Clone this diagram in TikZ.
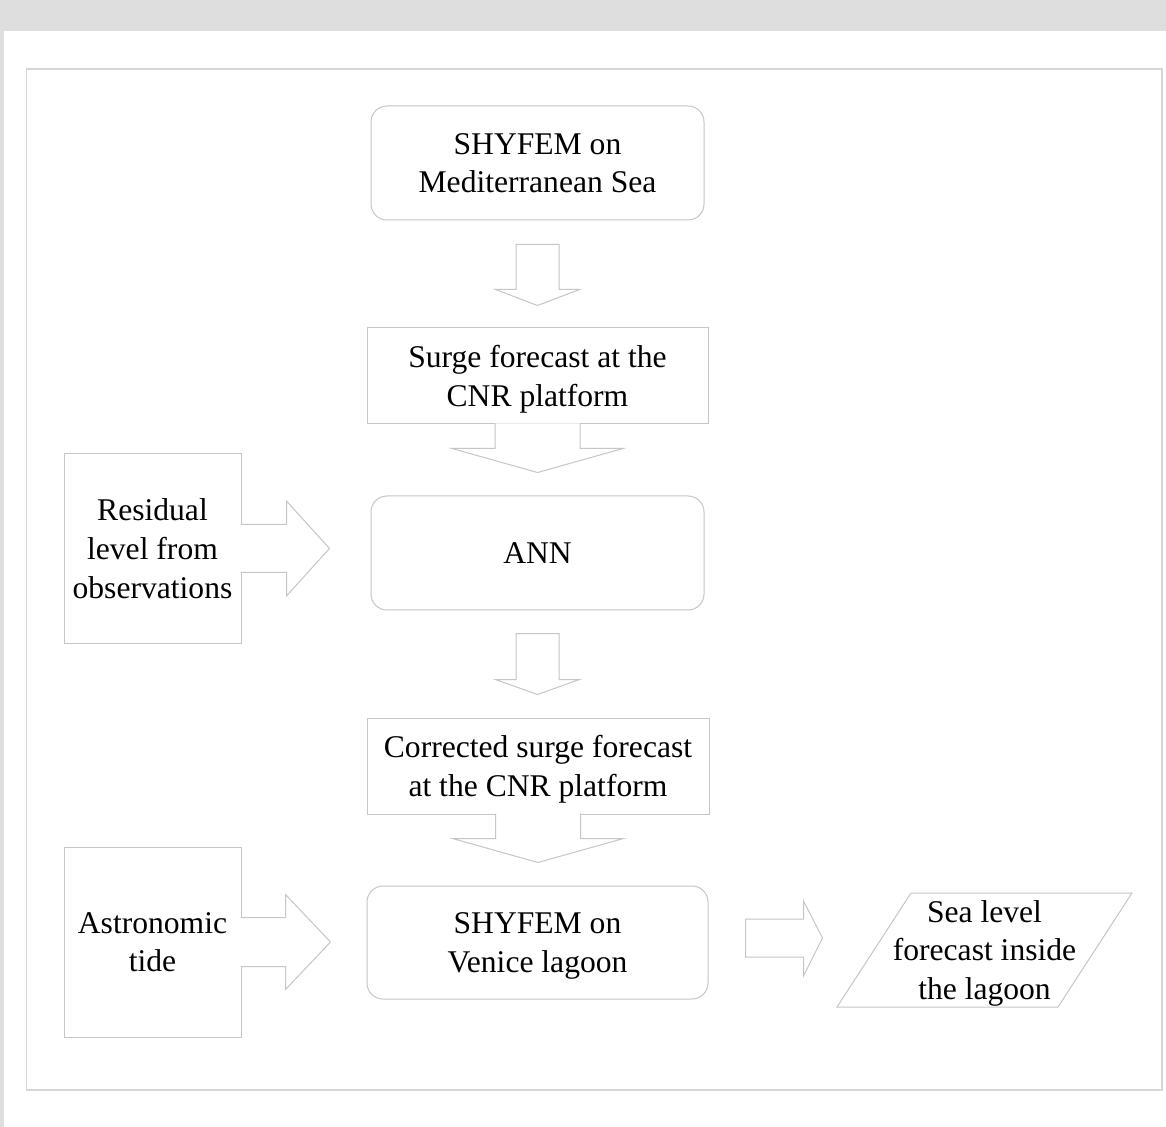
\documentclass[tikz,border=0pt]{standalone}
\usepackage{fontspec}
\setmainfont{Liberation Serif}
\usetikzlibrary{calc}
\definecolor{lgray}{RGB}{198,198,198}
\definecolor{fgray}{RGB}{214,214,214}
\definecolor{marble}{RGB}{222,222,222}

\begin{document}
\begin{tikzpicture}[x=0.5pt, y=-0.5pt,
  every node/.style = {font=\fontsize{15.8}{19.3}\selectfont, align=center, text=black, text depth=0pt},
  bx/.style = {draw=lgray, line width=0.5pt, inner sep=0pt},
  rbx/.style = {bx, rounded corners=8pt},
  blk/.style = {draw=lgray, fill=white, line width=0.5pt}]
\fill[marble] (0,0) rectangle (1166,1127);
\fill[white] (4,31) rectangle (1166,1127);
\draw[fgray, line width=0.6pt] (26.5,69) rectangle (1162,1090);

\node[rbx, minimum width=166.5pt, minimum height=57pt] (med) at (537.5,163) {SHYFEM on\\Mediterranean Sea};
\node[bx, minimum width=170.5pt, minimum height=48pt] (surge) at (537.5,376) {Surge forecast at the\\CNR platform};
\node[rbx, minimum width=166.5pt, minimum height=57pt] (ann) at (537.5,553) {ANN};
\node[bx, minimum width=171pt, minimum height=48pt] (corr) at (538,766) {Corrected surge forecast\\at the CNR platform};
\node[rbx, minimum width=170.5pt, minimum height=56.5pt] (ven) at (537.5,942.5) {SHYFEM on\\Venice lagoon};
\node[bx, minimum width=88.5pt, minimum height=94.5pt] (res) at (152.5,548.5) {Residual\\level from\\observations};
\node[bx, minimum width=88.5pt, minimum height=95pt] (tide) at (152.5,942) {Astronomic\\tide};
\node (sea) at (984.5,950) {Sea level\\forecast inside\\the lagoon};
\draw[bx, shift={(sea.center)}] (-73.5,-57) -- (147.5,-57) -- (73.5,57) -- (-147.5,57) -- cycle;

\draw[blk, shift={(med.south)}] (-21.5,24) -- (21.5,24) -- (21.5,69) -- (42,69) -- (0,85) -- (-42,69) -- (-21.5,69) -- cycle;
\draw[blk, shift={(surge.south)}] (-42.5,-1) -- (-42.5,24) -- (-85.5,24) -- (0,48) -- (85.5,24) -- (42.5,24) -- (42.5,-1);
\draw[blk, shift={(ann.south)}] (-21.5,23) -- (21.5,23) -- (21.5,69) -- (42,69) -- (0,84) -- (-42,69) -- (-21.5,69) -- cycle;
\draw[blk, shift={(corr.south)}] (-42.5,-1) -- (-42.5,24) -- (-85.5,24) -- (0,48) -- (85.5,24) -- (42.5,24) -- (42.5,-1);
\draw[blk, shift={(res.east)}] (-1,-24) -- (45,-24) -- (45,-47.5) -- (88,0) -- (45,47.5) -- (45,24) -- (-1,24);
\draw[blk, shift={(tide.east)}] (-1,-24.5) -- (44,-24.5) -- (44,-47.5) -- (89,0) -- (44,47.5) -- (44,24.5) -- (-1,24.5);
\draw[blk, shift={(ven.east)}] (37,-23.5) -- (95,-23.5) -- (95,-41.5) -- (114,-4.5) -- (95,33.5) -- (95,14.5) -- (37,14.5) -- cycle;
\end{tikzpicture}
\end{document}
